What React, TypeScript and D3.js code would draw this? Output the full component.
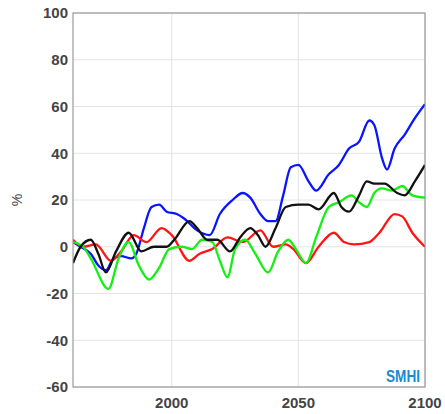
import React from "react";
import * as d3 from "d3";

type P = [number, number];

const blue: P[] = [[1961,2],[1964,0],[1968,-3],[1971,-8],[1974,-10],[1977,-5],[1980,-4],[1984,-5],[1986,-3],[1989,8],[1992,17],[1995,18],[1998,15],[2002,14],[2005,12],[2010,7],[2015,5],[2019,14],[2024,20],[2028,23],[2031,21],[2035,14],[2038,11],[2041,11],[2044,22],[2047,34],[2050,35],[2054,28],[2057,24],[2062,31],[2066,35],[2070,42],[2074,45],[2078,54],[2080,52],[2083,38],[2085,33],[2088,42],[2092,48],[2096,55],[2100,61]];
const red: P[] = [[1961,3],[1965,0],[1970,1],[1976,-6],[1980,-2],[1985,5],[1990,2],[1996,8],[2000,5],[2007,-6],[2011,-3],[2016,-1],[2022,4],[2028,2],[2035,7],[2040,0],[2045,1],[2048,-1],[2053,-7],[2058,0],[2064,6],[2068,2],[2072,1],[2078,2],[2082,6],[2088,14],[2091,13],[2095,6],[2100,0]];
const green: P[] = [[1961,2],[1965,0],[1968,-5],[1975,-18],[1979,-5],[1983,2],[1987,-8],[1991,-14],[1995,-9],[1999,-1],[2004,0],[2008,-1],[2012,3],[2016,2],[2019,-6],[2022,-13],[2025,-1],[2029,3],[2033,-3],[2038,-11],[2042,-2],[2046,3],[2049,-1],[2053,-7],[2057,4],[2062,17],[2066,19],[2071,22],[2074,19],[2077,17],[2080,23],[2083,25],[2087,24],[2091,26],[2095,22],[2100,21]];
const black: P[] = [[1961,-7],[1964,0],[1968,3],[1971,-3],[1974,-11],[1978,-2],[1983,6],[1988,-2],[1993,0],[1998,0],[2001,3],[2007,11],[2010,8],[2014,3],[2018,3],[2023,-2],[2027,4],[2031,8],[2034,5],[2037,0],[2041,8],[2045,17],[2050,18],[2054,18],[2058,16],[2064,23],[2067,17],[2070,15],[2074,22],[2077,28],[2080,27],[2084,27],[2089,23],[2092,22],[2096,28],[2100,35]];

const yTicks = [100, 80, 60, 40, 20, 0, -20, -40, -60];
const xTicks = [2000, 2050, 2100];

const series: { data: P[]; color: string }[] = [
  { data: blue, color: "#0a14ff" },
  { data: red, color: "#ff1414" },
  { data: green, color: "#14f014" },
  { data: black, color: "#111111" },
];

export default function App() {
  const left = 73, right = 425, top = 13, bottom = 387;
  const x = d3.scaleLinear().domain([1961, 2100]).range([left, right]);
  const y = d3.scaleLinear().domain([-60, 100]).range([bottom, top]);
  const line = d3
    .line<P>()
    .x((d) => x(d[0]))
    .y((d) => y(d[1]))
    .curve(d3.curveMonotoneX);
  const font = "Liberation Sans, Arial, sans-serif";

  return (
    <svg width={445} height={414} style={{ position: "absolute", left: 0, top: 0, background: "#fff" }}>
      <clipPath id="plot">
        <rect x={left} y={top} width={right - left} height={bottom - top} />
      </clipPath>
      {yTicks.map((t) => (
        <g key={t}>
          <line x1={left} x2={right} y1={y(t)} y2={y(t)} stroke="#e4e4e4" />
          <text x={left - 5} y={y(t)} dy="0.35em" textAnchor="end" fontFamily={font} fontWeight="bold" fontSize={15} fill="#444">{t}</text>
        </g>
      ))}
      {xTicks.map((t) => (
        <g key={t}>
          <line x1={x(t)} x2={x(t)} y1={top} y2={bottom} stroke="#e4e4e4" />
          <text x={x(t)} y={bottom + 21} textAnchor="middle" fontFamily={font} fontWeight="bold" fontSize={15} fill="#444">{t}</text>
        </g>
      ))}
      <text transform={`translate(22,${y(20)}) rotate(-90)`} textAnchor="middle" fontFamily={font} fontSize={14} fill="#444">%</text>
      <g clipPath="url(#plot)">
        {series.map((s, i) => (
          <path key={i} d={line(s.data) ?? ""} fill="none" stroke={s.color} strokeWidth={2.3} />
        ))}
      </g>
      <rect x={left} y={top} width={right - left} height={bottom - top} fill="none" stroke="#888" />
      <text x={420} y={382} textAnchor="end" fontFamily={font} fontWeight="bold" fontSize={17} fill="#1a8ad4" textLength={34} lengthAdjust="spacingAndGlyphs">SMHI</text>
    </svg>
  );
}
